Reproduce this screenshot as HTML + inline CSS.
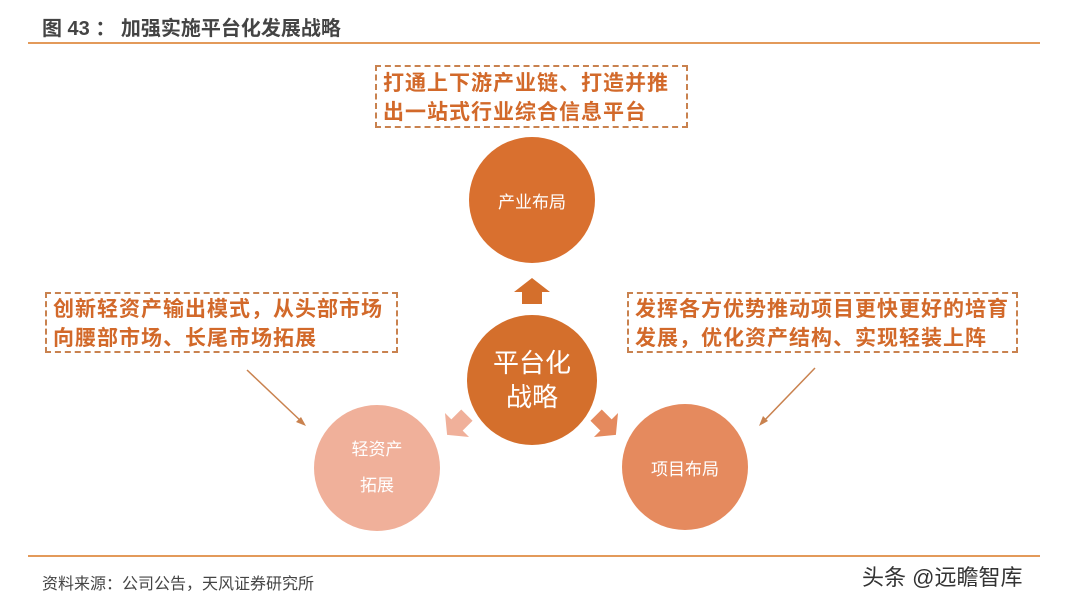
<!DOCTYPE html>
<html><head><meta charset="utf-8"><style>
body{margin:0;width:1080px;height:601px;background:#fff;overflow:hidden;position:relative;font-family:"Liberation Sans","Noto Sans CJK SC",sans-serif}
.a{position:absolute}
.c{position:absolute;border-radius:50%;color:#fff;display:flex;align-items:center;justify-content:center;text-align:center}
.box{position:absolute;border:2px dashed #c9824f;color:#d2692a;font-weight:bold;font-size:21px;line-height:29px;padding:0 6px;box-sizing:border-box;letter-spacing:1px;white-space:nowrap}
</style></head><body>
<div class="a" style="left:42px;top:12px;font-size:20px;font-weight:bold;color:#444">图 43 ： 加强实施平台化发展战略</div>
<div class="a" style="left:28px;top:42px;width:1012px;height:2px;background:#e39a5a"></div>
<div class="box" style="left:375px;top:65px;width:313px;height:63px;padding-top:2px">打通上下游产业链、打造并推<br>出一站式行业综合信息平台</div>
<div class="box" style="left:45px;top:292px;width:353px;height:61px;padding-top:1px">创新轻资产输出模式，从头部市场<br>向腰部市场、长尾市场拓展</div>
<div class="box" style="left:627px;top:292px;width:391px;height:61px;padding-top:1px">发挥各方优势推动项目更快更好的培育<br>发展，优化资产结构、实现轻装上阵</div>
<div class="c" style="left:469px;top:137px;width:126px;height:126px;background:#d9702f;font-size:17px">产业布局</div>
<div class="c" style="left:467px;top:315px;width:130px;height:130px;background:#d46f2c;font-size:26px;line-height:34px">平台化<br>战略</div>
<div class="c" style="left:314px;top:405px;width:126px;height:126px;background:#f0b09a;font-size:17px;line-height:36px">轻资产<br>拓展</div>
<div class="c" style="left:622px;top:404px;width:126px;height:126px;background:#e58a5e;font-size:17px">项目布局</div>
<svg class="a" style="left:0;top:0" width="1080" height="601">
<polygon points="532,278 550,292 542,292 542,304 522,304 522,292 514,292" fill="#d46f2c"/>
<g transform="translate(457,425) rotate(-45)"><polygon points="-14,0 0,-17 0,-8 14,-8 14,8 0,8 0,17" fill="#f0b09a"/></g>
<g transform="translate(606,425) rotate(45)"><polygon points="14,0 0,-17 0,-8 -14,-8 -14,8 0,8 0,17" fill="#e58a5e"/></g>
<line x1="247" y1="370" x2="303" y2="423" stroke="#c9824f" stroke-width="1.5"/>
<polygon points="306,426 296,422 301,417" fill="#c9824f"/>
<line x1="815" y1="368" x2="762" y2="423" stroke="#c9824f" stroke-width="1.5"/>
<polygon points="759,426 763,416 768,421" fill="#c9824f"/>
</svg>
<div class="a" style="left:28px;top:555px;width:1012px;height:2px;background:#e39a5a"></div>
<div class="a" style="left:42px;top:570px;font-size:16px;color:#444">资料来源：公司公告，天风证券研究所</div>
<div class="a" style="left:862px;top:560px;font-size:22px;color:#333">头条 @远瞻智库</div>
</body></html>
